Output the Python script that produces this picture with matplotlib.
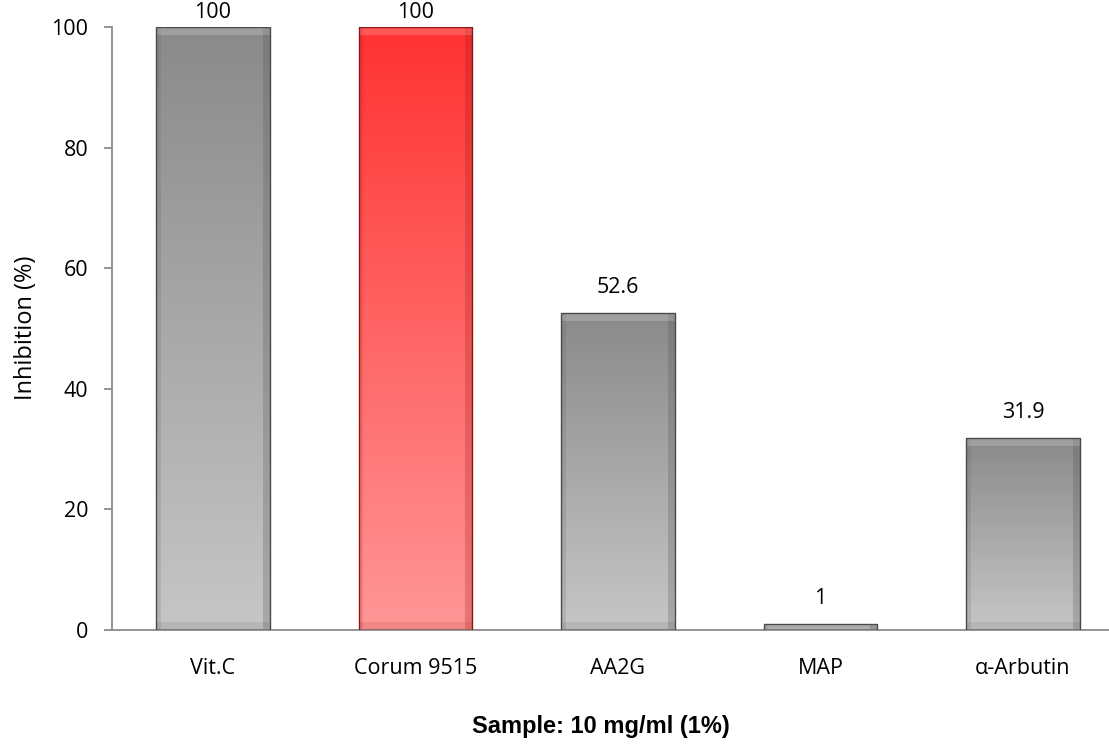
import numpy as np
import matplotlib
matplotlib.use("Agg")
import matplotlib.pyplot as plt
from matplotlib.colors import LinearSegmentedColormap
from matplotlib.patches import Rectangle

categories = ["Vit.C", "Corum 9515", "AA2G", "MAP", "α-Arbutin"]
values = [100, 100, 52.6, 1, 31.9]
value_labels = ["100", "100", "52.6", "1", "31.9"]
highlight = [False, True, False, False, False]
yticks = [0, 20, 40, 60, 80, 100]

W, H = 1109, 744
fig = plt.figure(figsize=(W / 100, H / 100), dpi=100)
step = 202.5
left_px = 213 - step / 2
ax = fig.add_axes([left_px / W, 1 - 630 / H, (5 * step) / W, (630 - 27) / H])
ax.set_xlim(-0.5, 4.5)
ax.set_ylim(0, 100)

tick_font = "Open Sans"
FS = 15.5
gray_cmap = LinearSegmentedColormap.from_list("g", ["#c6c6c6", "#8a8a8a"])
red_cmap = LinearSegmentedColormap.from_list("r", ["#ff9696", "#ff3232"])
width = 0.56
grad = np.linspace(0, 1, 256).reshape(-1, 1)
px_per_unit_y = (630 - 27) / 100.0
for i, (v, hl) in enumerate(zip(values, highlight)):
    x0, x1 = i - width / 2, i + width / 2
    cmap = red_cmap if hl else gray_cmap
    im = ax.imshow(grad, extent=[x0, x1, 0, v], origin="lower", cmap=cmap,
                   aspect="auto", zorder=2)
    edge = "#4a4a4a" if not hl else "#8a1a1a"
    rect = Rectangle((x0, 0), width, v, facecolor="none",
                     edgecolor=edge, linewidth=1.0, zorder=3)
    ax.add_patch(rect)
    im.set_clip_path(rect)
    # bevel effects
    bev_x = 0.035
    bev_y = min(8 / px_per_unit_y, v / 3)
    dark = "#505050" if not hl else "#a01818"
    light = "#ffffff"
    ax.add_patch(Rectangle((x1 - bev_x, 0), bev_x, v, facecolor=dark, alpha=0.25,
                           edgecolor="none", zorder=2.5))
    ax.add_patch(Rectangle((x0, 0), bev_x * 0.6, v, facecolor=dark, alpha=0.15,
                           edgecolor="none", zorder=2.5))
    ax.add_patch(Rectangle((x0, v - bev_y), width, bev_y, facecolor=light, alpha=0.18,
                           edgecolor="none", zorder=2.6))
    ax.add_patch(Rectangle((x0, 0), width, bev_y, facecolor=dark, alpha=0.12,
                           edgecolor="none", zorder=2.6))
    # value labels; keep inside the figure
    ytxt = v + 15 / px_per_unit_y
    if ytxt + 18 / px_per_unit_y > 100 + 27 / px_per_unit_y:
        fig.text((left_px + (i + 0.5) * step) / W, 1.0 - 2 / H, value_labels[i],
                 ha="center", va="top", fontsize=FS, family=tick_font, color="black",
                 zorder=10)
    else:
        ax.text(i, ytxt, value_labels[i], ha="center", va="bottom",
                fontsize=FS, family=tick_font, color="black", zorder=4)

for s in ["top", "right"]:
    ax.spines[s].set_visible(False)
for s in ["left", "bottom"]:
    ax.spines[s].set_color("#8c8c8c")
    ax.spines[s].set_linewidth(1.3)
ax.set_xticks(range(len(categories)))
ax.set_xticklabels(categories, family=tick_font, fontsize=FS)
ax.tick_params(axis="x", length=0, pad=20)
ax.set_yticks(yticks)
ax.set_yticklabels([str(t) for t in yticks], family=tick_font, fontsize=FS)
ax.tick_params(axis="y", length=6, width=1.3, color="#8c8c8c", pad=11)
fig.text(26 / W, 1 - 328 / H, "Inhibition (%)", rotation=90, ha="center", va="center",
         family=tick_font, fontsize=17)
fig.text(601 / W, 1 - 727 / H, "Sample: 10 mg/ml (1%)", ha="center", va="center",
         family="Liberation Sans", fontweight="bold", fontsize=17)

fig.savefig("out.png", dpi=100)
